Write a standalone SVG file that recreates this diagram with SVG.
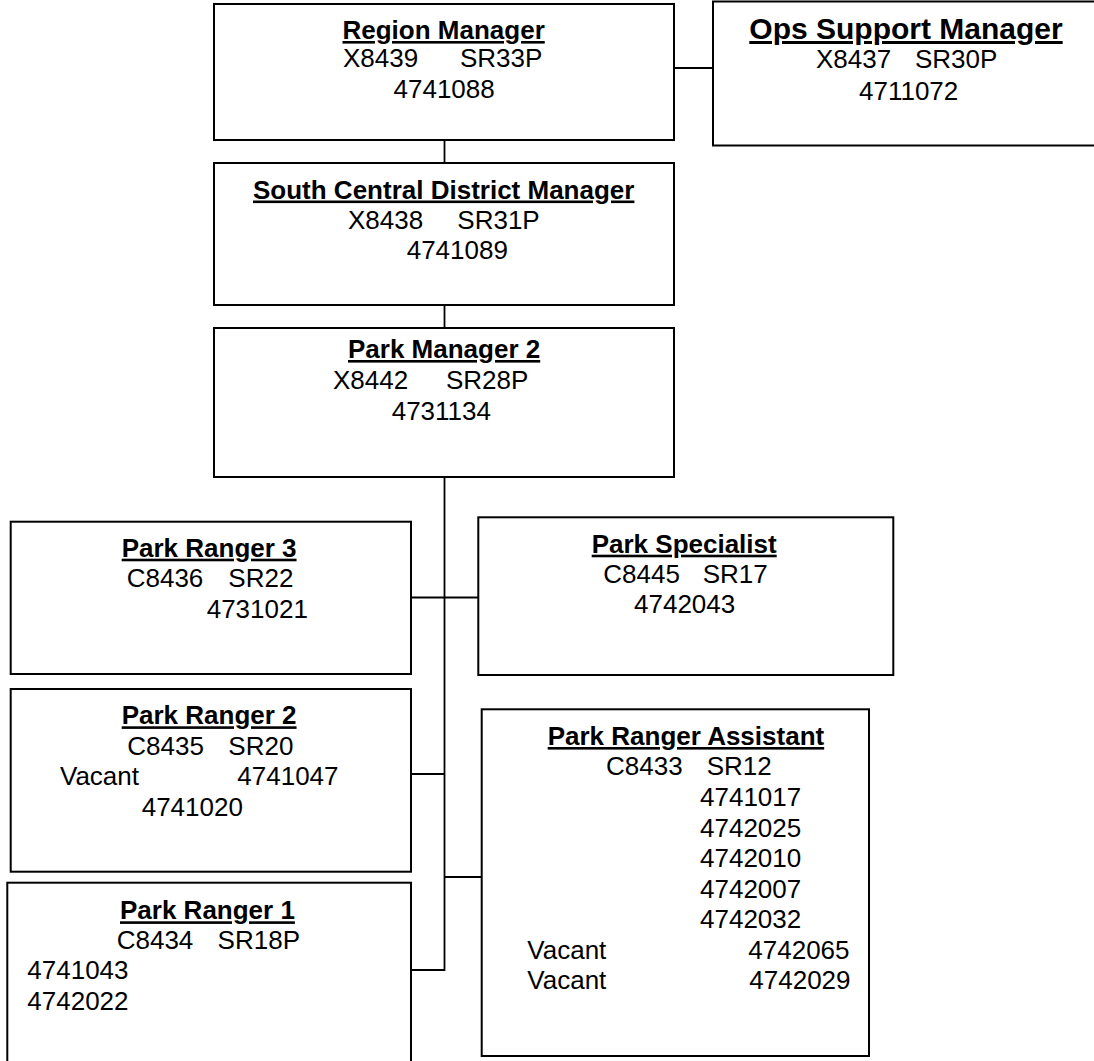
<svg xmlns="http://www.w3.org/2000/svg" width="1094" height="1061" viewBox="0 0 1094 1061">
<style>
.box{fill:#fff;stroke:#000;stroke-width:2}
.conn{fill:none;stroke:#000;stroke-width:1.8}
text{font-family:"Liberation Sans",Arial,sans-serif;font-size:26px;fill:#000}
.t{font-weight:bold;text-decoration:underline}
.big{font-size:30px}
</style>
<rect width="1094" height="1061" fill="#fff"/>
<g id="connectors">
<path class="conn" d="M674,68 H713"/>
<path class="conn" d="M444.5,140 V163"/>
<path class="conn" d="M444.5,305 V328"/>
<path class="conn" d="M444.5,477 V971"/>
<path class="conn" d="M411,597.5 H478"/>
<path class="conn" d="M411,774 H445"/>
<path class="conn" d="M445,877 H482"/>
<path class="conn" d="M411,970 H445"/>
</g>
<g id="region-manager">
<rect class="box" x="214" y="4" width="460" height="136"/>
<text class="t" x="342.5" y="39">Region Manager</text>
<text y="67"><tspan x="343">X8439</tspan><tspan x="460">SR33P</tspan></text>
<text x="393.5" y="98">4741088</text>
</g>
<g id="ops-support-manager">
<rect class="box" x="713" y="1.5" width="400" height="144"/>
<text class="t big" x="749.3" y="39">Ops Support Manager</text>
<text y="68"><tspan x="816">X8437</tspan><tspan x="915">SR30P</tspan></text>
<text x="859" y="100">4711072</text>
</g>
<g id="south-central-district-manager">
<rect class="box" x="214" y="163" width="460" height="142"/>
<text class="t" x="253" y="198.5">South Central District Manager</text>
<text y="229"><tspan x="348">X8438</tspan><tspan x="457.3">SR31P</tspan></text>
<text x="406.7" y="258.5">4741089</text>
</g>
<g id="park-manager-2">
<rect class="box" x="214" y="328" width="460" height="149"/>
<text class="t" x="348" y="358">Park Manager 2</text>
<text y="389"><tspan x="333">X8442</tspan><tspan x="446">SR28P</tspan></text>
<text x="391.7" y="420">4731134</text>
</g>
<g id="park-ranger-3">
<rect class="box" x="10.7" y="521.7" width="400.3" height="152.3"/>
<text class="t" x="121.7" y="556.7">Park Ranger 3</text>
<text y="587.3"><tspan x="126.7">C8436</tspan><tspan x="228.3">SR22</tspan></text>
<text x="206.7" y="618.3">4731021</text>
</g>
<g id="park-specialist">
<rect class="box" x="478.3" y="517.3" width="415" height="157.7"/>
<text class="t" x="591.7" y="552.7">Park Specialist</text>
<text y="582.7"><tspan x="603.3">C8445</tspan><tspan x="702.7">SR17</tspan></text>
<text x="634" y="612.7">4742043</text>
</g>
<g id="park-ranger-2">
<rect class="box" x="10.7" y="689" width="400.3" height="182.7"/>
<text class="t" x="121.7" y="724.3">Park Ranger 2</text>
<text y="754.5"><tspan x="127.3">C8435</tspan><tspan x="228.3">SR20</tspan></text>
<text y="785"><tspan x="60">Vacant</tspan><tspan x="237.3">4741047</tspan></text>
<text x="141.7" y="816">4741020</text>
</g>
<g id="park-ranger-1">
<rect class="box" x="7.3" y="882.7" width="403.7" height="190"/>
<text class="t" x="120" y="919.3">Park Ranger 1</text>
<text y="948.5"><tspan x="116.7">C8434</tspan><tspan x="217.6">SR18P</tspan></text>
<text x="27.3" y="979">4741043</text>
<text x="27.3" y="1010">4742022</text>
</g>
<g id="park-ranger-assistant">
<rect class="box" x="481.7" y="709.3" width="387.3" height="346.7"/>
<text class="t" x="547.7" y="745">Park Ranger Assistant</text>
<text y="775"><tspan x="606">C8433</tspan><tspan x="706.7">SR12</tspan></text>
<text x="700" y="805.7">4741017</text>
<text x="700" y="836.5">4742025</text>
<text x="700" y="867">4742010</text>
<text x="700" y="897.5">4742007</text>
<text x="700" y="928">4742032</text>
<text y="959"><tspan x="527.3">Vacant</tspan><tspan x="748.3">4742065</tspan></text>
<text y="989"><tspan x="527.3">Vacant</tspan><tspan x="749.3">4742029</tspan></text>
</g>
</svg>
